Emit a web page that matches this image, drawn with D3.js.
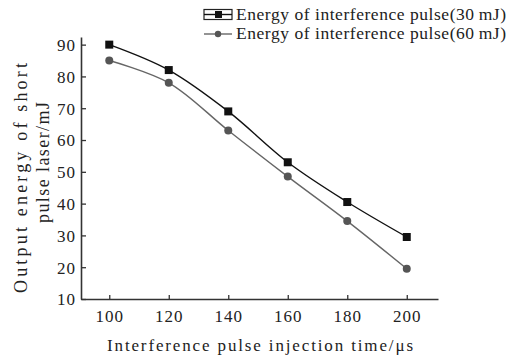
<!DOCTYPE html>
<html>
<head>
<meta charset="utf-8">
<script src="https://cdn.jsdelivr.net/npm/d3@7"></script>
<style>
  body { margin: 0; background: #fff; }
  text { font-family: "Liberation Serif", serif; fill: #222; }
</style>
</head>
<body>
<svg id="chart" width="517" height="355"></svg>
<script>
const times = [100, 120, 140, 160, 180, 200];
const energy30 = [90, 82, 69, 53, 40.5, 29.5];
const energy60 = [85, 78, 63, 48.5, 34.5, 19.5];
const xTicks = [100, 120, 140, 160, 180, 200];
const yTicks = [10, 20, 30, 40, 50, 60, 70, 80, 90];
const seriesNames = ["Energy of interference pulse(30\u2009mJ)", "Energy of interference pulse(60\u2009mJ)"];

const svg = d3.select('#chart');

// plot box
const plotLeft = 81, plotRight = 438, plotTop = 37, plotBottom = 299;

const x = d3.scaleLinear().domain([90.5, 210.5]).range([plotLeft, plotRight]);
const y = d3.scaleLinear().domain([10, 92.4]).range([plotBottom, plotTop]);

// x axis, ticks point inward
const gx = svg.append('g')
    .attr('transform', `translate(0,${plotBottom})`)
    .call(d3.axisBottom(x).tickValues(xTicks).tickSizeInner(-4).tickSizeOuter(0).tickPadding(0));
gx.select('.domain').attr('stroke', '#333').attr('stroke-width', 1.6);
gx.selectAll('.tick line').attr('stroke', '#333').attr('stroke-width', 1.3);
gx.selectAll('.tick text')
    .attr('y', 23).attr('dy', null)
    .style('font-size', '17px').style('letter-spacing', '1px')
    .attr('fill', '#222');

// y axis, ticks point inward too
const gy = svg.append('g')
    .attr('transform', `translate(${plotLeft},0)`)
    .call(d3.axisLeft(y).tickValues(yTicks).tickSizeInner(-5).tickSizeOuter(0).tickPadding(0));
gy.select('.domain').attr('stroke', '#333').attr('stroke-width', 1.6);
gy.selectAll('.tick text')
    .attr('x', -5).attr('dy', '0.35em')
    .style('font-size', '17px').style('letter-spacing', '1px')
    .attr('fill', '#222');
gy.selectAll('.tick line').attr('stroke', '#333').attr('stroke-width', 1.3);

// axis titles
svg.append('text')
    .attr('x', 260).attr('y', 351)
    .attr('text-anchor', 'middle')
    .attr('textLength', 306).attr('lengthAdjust', 'spacing')
    .style('font-size', '17px')
    .text('Interference pulse injection time/\u03bcs');

svg.append('text')
    .attr('transform', 'translate(27,178) rotate(-90)')
    .attr('text-anchor', 'middle')
    .attr('textLength', 230).attr('lengthAdjust', 'spacing')
    .style('font-size', '18px')
    .text('Output energy of short');

svg.append('text')
    .attr('transform', 'translate(49,162.5) rotate(-90)')
    .attr('text-anchor', 'middle')
    .attr('textLength', 121).attr('lengthAdjust', 'spacing')
    .style('font-size', '18px')
    .text('pulse laser/mJ');

// lines
const line = d3.line()
    .x((d, i) => x(times[i]))
    .y(d => y(d))
    .curve(d3.curveCatmullRom.alpha(0.5));

svg.append('path')
    .attr('d', line(energy60))
    .attr('fill', 'none').attr('stroke', '#666').attr('stroke-width', 1.4);

svg.append('path')
    .attr('d', line(energy30))
    .attr('fill', 'none').attr('stroke', '#111').attr('stroke-width', 1.4);

svg.selectAll('circle.pt')
    .data(energy60)
    .enter()
    .append('circle')
    .attr('class', 'pt')
    .attr('cx', (d, i) => x(times[i]))
    .attr('cy', d => y(d))
    .attr('r', 4)
    .attr('fill', '#555');

svg.selectAll('rect.pt')
    .data(energy30)
    .enter()
    .append('rect')
    .attr('class', 'pt')
    .attr('x', (d, i) => x(times[i]) - 4)
    .attr('y', d => y(d) - 4)
    .attr('width', 8).attr('height', 8)
    .attr('fill', '#111');

// legend
const lg = svg.append('g');
lg.append('rect')
    .attr('x', 204).attr('y', 9.5).attr('width', 28).attr('height', 10)
    .attr('fill', 'none').attr('stroke', '#222').attr('stroke-width', 1.2);
lg.append('line')
    .attr('x1', 204).attr('x2', 232).attr('y1', 14.5).attr('y2', 14.5)
    .attr('stroke', '#111').attr('stroke-width', 1.4);
lg.append('rect')
    .attr('x', 215).attr('y', 11).attr('width', 7).attr('height', 7)
    .attr('fill', '#111');
lg.append('line')
    .attr('x1', 204).attr('x2', 232).attr('y1', 34).attr('y2', 34)
    .attr('stroke', '#666').attr('stroke-width', 1.4);
lg.append('circle')
    .attr('cx', 218).attr('cy', 34).attr('r', 3.2)
    .attr('fill', '#555');

lg.selectAll('text')
    .data(seriesNames)
    .enter()
    .append('text')
    .attr('x', 236)
    .attr('y', (d, i) => 19.5 + i * 19.5)
    .attr('textLength', 270).attr('lengthAdjust', 'spacing')
    .style('font-size', '17.5px')
    .text(d => d);
</script>
</body>
</html>
